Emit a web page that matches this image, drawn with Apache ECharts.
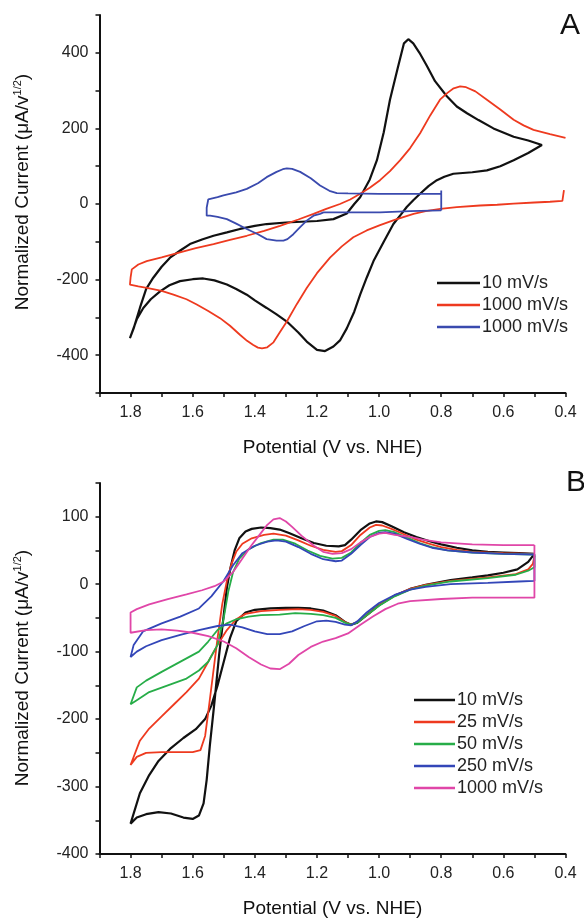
<!DOCTYPE html>
<html>
<head>
<meta charset="utf-8">
<script src="https://cdn.jsdelivr.net/npm/echarts@6/dist/echarts.min.js"></script>
<style>
  html, body { margin: 0; padding: 0; background: #fff; }
  #main { width: 584px; height: 919px; }
</style>
</head>
<body>
<div id="main"></div>
<script>
// panel A  -- [potential V, current]
var a10 = [[1.30,-49],[1.25,-47],[1.2,-45],[1.147,-40],[1.104,-25],[1.08,0],[1.061,18],[1.03,65],[1.007,116],[0.985,190],[0.965,276],[0.94,360],[0.92,425],[0.906,436],[0.89,425],[0.87,400],[0.846,365],[0.82,325],[0.782,285],[0.75,258],[0.717,240],[0.68,222],[0.632,200],[0.567,178],[0.52,168],[0.476,156],[0.52,135],[0.567,116],[0.61,100],[0.653,89],[0.70,84],[0.761,80],[0.79,72],[0.814,63],[0.84,48],[0.868,27],[0.89,10],[0.911,-8],[0.93,-28],[0.954,-53],[0.985,-100],[1.018,-151],[1.04,-195],[1.061,-240],[1.08,-285],[1.104,-329],[1.125,-360],[1.147,-377],[1.174,-389],[1.20,-386],[1.233,-364],[1.26,-340],[1.297,-311],[1.33,-292],[1.362,-275],[1.40,-255],[1.426,-240],[1.46,-225],[1.49,-213],[1.53,-202],[1.566,-197],[1.60,-199],[1.641,-204],[1.675,-215],[1.705,-231],[1.735,-252],[1.759,-275],[1.78,-305],[1.802,-355],[1.79,-329],[1.77,-275],[1.75,-225],[1.727,-195],[1.70,-166],[1.673,-142],[1.64,-123],[1.609,-106],[1.57,-94],[1.533,-84],[1.49,-75],[1.448,-66],[1.40,-58],[1.362,-53],[1.30,-49]];
var a1000 = [[0.40,175],[0.45,185],[0.503,196],[0.535,208],[0.567,223],[0.61,250],[0.653,276],[0.69,298],[0.72,309],[0.739,311],[0.76,306],[0.78,294],[0.804,276],[0.835,235],[0.868,187],[0.90,148],[0.932,116],[0.965,87],[0.997,63],[1.03,43],[1.061,27],[1.093,12],[1.126,0],[1.17,-13],[1.211,-26],[1.26,-41],[1.319,-58],[1.37,-71],[1.426,-84],[1.48,-95],[1.533,-106],[1.59,-117],[1.641,-128],[1.70,-141],[1.748,-151],[1.775,-160],[1.796,-173],[1.80,-195],[1.802,-213],[1.775,-218],[1.748,-222],[1.70,-230],[1.662,-240],[1.62,-252],[1.587,-266],[1.55,-283],[1.512,-302],[1.48,-322],[1.448,-346],[1.425,-362],[1.405,-373],[1.39,-380],[1.377,-382],[1.36,-379],[1.34,-366],[1.32,-340],[1.297,-311],[1.265,-265],[1.233,-222],[1.20,-183],[1.158,-142],[1.12,-112],[1.083,-88],[1.04,-70],[0.997,-56],[0.95,-42],[0.889,-26],[0.85,-19],[0.803,-13],[0.75,-8],[0.675,-4],[0.62,-2],[0.567,1],[0.50,4],[0.45,6],[0.41,8],[0.405,37]];
var a1000b = [[0.80,-17],[0.90,-19],[0.997,-22],[1.10,-22],[1.179,-22],[1.19,-26],[1.211,-31],[1.233,-44],[1.255,-62],[1.276,-80],[1.295,-93],[1.308,-97],[1.33,-97],[1.362,-93],[1.39,-80],[1.426,-66],[1.46,-52],[1.49,-40],[1.52,-34],[1.544,-31],[1.555,-31],[1.555,-10],[1.55,12],[1.52,18],[1.501,23],[1.46,31],[1.426,40],[1.39,55],[1.362,71],[1.33,85],[1.31,92],[1.297,94],[1.28,93],[1.254,85],[1.22,68],[1.19,49],[1.16,35],[1.136,29],[1.10,28],[1.0,27],[0.90,27],[0.80,27],[0.80,36],[0.80,-17]];

// panel B
var b10 = [[0.50,45],[0.52,33],[0.555,22],[0.60,17],[0.65,13],[0.70,10],[0.77,6],[0.85,-1],[0.90,-7],[0.95,-17],[1.0,-31],[1.04,-46],[1.07,-57],[1.09,-60],[1.11,-56],[1.14,-46],[1.18,-39],[1.22,-36],[1.26,-35],[1.30,-35],[1.35,-36],[1.40,-38],[1.43,-42],[1.46,-55],[1.48,-80],[1.50,-115],[1.52,-150],[1.54,-180],[1.56,-200],[1.59,-215],[1.63,-228],[1.67,-243],[1.71,-262],[1.74,-283],[1.77,-310],[1.80,-355],[1.78,-346],[1.75,-341],[1.71,-338],[1.67,-340],[1.63,-346],[1.60,-348],[1.58,-343],[1.565,-325],[1.555,-290],[1.545,-240],[1.53,-175],[1.515,-105],[1.50,-45],[1.49,-5],[1.478,25],[1.465,50],[1.45,68],[1.43,78],[1.41,82],[1.38,84],[1.35,83],[1.32,81],[1.29,76],[1.25,68],[1.21,61],[1.17,57],[1.13,56],[1.11,58],[1.09,66],[1.06,80],[1.03,90],[1.01,93],[0.99,92],[0.96,86],[0.92,77],[0.88,70],[0.84,64],[0.80,59],[0.75,54],[0.70,50],[0.65,48],[0.60,47],[0.55,46],[0.50,45]];
var b25 = [[0.50,42],[0.505,30],[0.52,22],[0.56,15],[0.65,10],[0.77,5],[0.85,-1],[0.90,-7],[0.95,-17],[1.0,-31],[1.04,-46],[1.07,-56],[1.09,-60],[1.11,-56],[1.14,-47],[1.18,-41],[1.22,-38],[1.26,-37],[1.32,-38],[1.38,-40],[1.43,-44],[1.46,-52],[1.49,-68],[1.52,-90],[1.55,-115],[1.58,-140],[1.62,-160],[1.66,-178],[1.70,-196],[1.74,-214],[1.77,-232],[1.80,-268],[1.78,-256],[1.75,-250],[1.70,-249],[1.65,-249],[1.60,-249],[1.575,-246],[1.56,-225],[1.55,-190],[1.535,-135],[1.52,-80],[1.505,-30],[1.49,5],[1.475,30],[1.46,48],[1.44,60],[1.41,68],[1.37,73],[1.34,75],[1.30,72],[1.26,65],[1.22,57],[1.18,51],[1.14,48],[1.12,49],[1.09,58],[1.06,73],[1.03,84],[1.01,88],[0.99,87],[0.96,82],[0.92,74],[0.88,66],[0.84,60],[0.80,55],[0.75,51],[0.70,48],[0.60,46],[0.50,45]];
var b50 = [[0.50,44],[0.50,25],[0.52,20],[0.56,14],[0.65,9],[0.77,4],[0.85,-2],[0.90,-8],[0.95,-18],[1.0,-32],[1.04,-46],[1.07,-57],[1.09,-60],[1.11,-57],[1.14,-50],[1.18,-46],[1.22,-44],[1.27,-43],[1.32,-45],[1.38,-46],[1.42,-48],[1.46,-52],[1.49,-58],[1.52,-68],[1.55,-85],[1.58,-100],[1.62,-110],[1.66,-120],[1.70,-130],[1.75,-143],[1.78,-153],[1.80,-178],[1.78,-172],[1.74,-160],[1.68,-150],[1.62,-140],[1.58,-128],[1.55,-115],[1.52,-90],[1.50,-50],[1.485,-10],[1.47,18],[1.45,38],[1.42,52],[1.38,61],[1.34,66],[1.31,66],[1.27,60],[1.23,50],[1.19,42],[1.15,38],[1.12,39],[1.09,47],[1.06,61],[1.03,73],[1.0,79],[0.98,80],[0.95,77],[0.91,69],[0.87,61],[0.83,55],[0.78,50],[0.70,47],[0.60,45],[0.50,44]];
var b250 = [[0.50,44],[0.50,5],[0.55,4],[0.65,2],[0.77,0],[0.85,-4],[0.90,-8],[0.95,-16],[1.0,-28],[1.04,-42],[1.07,-55],[1.09,-61],[1.11,-60],[1.14,-56],[1.17,-54],[1.20,-55],[1.24,-62],[1.28,-70],[1.32,-74],[1.36,-74],[1.40,-70],[1.44,-64],[1.48,-60],[1.52,-62],[1.58,-68],[1.64,-75],[1.70,-83],[1.75,-92],[1.78,-100],[1.80,-108],[1.79,-90],[1.76,-70],[1.70,-58],[1.64,-48],[1.58,-36],[1.54,-18],[1.50,5],[1.47,28],[1.44,46],[1.40,57],[1.36,63],[1.33,65],[1.30,63],[1.26,55],[1.22,45],[1.18,37],[1.14,34],[1.12,35],[1.09,45],[1.06,58],[1.03,70],[1.0,76],[0.98,77],[0.95,75],[0.91,67],[0.87,60],[0.83,54],[0.78,50],[0.70,47],[0.60,45],[0.50,44]];
var b1000 = [[0.50,58],[0.60,58],[0.70,59],[0.80,62],[0.86,66],[0.90,70],[0.95,73],[0.98,76],[1.0,75],[1.03,70],[1.06,62],[1.09,52],[1.12,46],[1.15,45],[1.18,48],[1.21,57],[1.25,72],[1.28,85],[1.30,93],[1.32,98],[1.34,96],[1.36,88],[1.38,76],[1.41,58],[1.44,38],[1.47,18],[1.50,4],[1.53,-3],[1.57,-9],[1.62,-15],[1.68,-22],[1.74,-30],[1.78,-37],[1.80,-42],[1.80,-72],[1.75,-68],[1.70,-67],[1.65,-69],[1.60,-72],[1.55,-77],[1.50,-85],[1.46,-95],[1.42,-108],[1.38,-119],[1.35,-125],[1.32,-126],[1.29,-118],[1.26,-105],[1.22,-93],[1.18,-85],[1.14,-80],[1.10,-73],[1.06,-60],[1.02,-48],[0.98,-37],[0.94,-29],[0.90,-25],[0.80,-22],[0.70,-20],[0.60,-20],[0.50,-20],[0.50,58]];

var namesA = ['10 mV/s', '1000 mV/s', '1000 mV/s'];
var namesB = ['10 mV/s', '25 mV/s', '50 mV/s', '250 mV/s', '1000 mV/s'];
var colorsA = ['#111111', '#ee3a1f', '#3a4aae'];
var colorsB = ['#111111', '#ee3a1f', '#27ad48', '#3346b8', '#e046a8'];

var font = 'Liberation Sans, Arial, sans-serif';
var myChart = echarts.init(document.getElementById('main'), null, {renderer: 'canvas'});

function xAx(gi) {
    return {
        type: 'value', gridIndex: gi, min: 0.4, max: 1.9, interval: 0.1, inverse: true,
        name: 'Potential (V vs. NHE)', nameLocation: 'middle', nameGap: 45,
        nameTextStyle: {fontFamily: font, fontSize: 19, color: '#111'},
        axisLine: {onZero: false, lineStyle: {color: '#111', width: 2}},
        axisTick: {length: 4, lineStyle: {color: '#111', width: 1.5}},
        axisLabel: {
            fontFamily: font, fontSize: 16, color: '#222', margin: 12,
            formatter: function (v) { return Math.round(v * 10) % 2 === 0 ? v.toFixed(1) : ''; }
        },
        splitLine: {show: false}
    };
}
function yAx(gi, min, max, step, labStep) {
    return {
        type: 'value', gridIndex: gi, min: min, max: max, interval: step,
        axisLine: {show: true, onZero: false, lineStyle: {color: '#111', width: 2}},
        axisTick: {show: true, length: 4, lineStyle: {color: '#111', width: 1.5}},
        axisLabel: {
            fontFamily: font, fontSize: 16, color: '#222', margin: 11,
            formatter: function (v) { return v % labStep === 0 ? String(v) : ''; }
        },
        splitLine: {show: false}
    };
}

var series = [];
[a10, a1000, a1000b].forEach(function (d, i) {
    series.push({name: 'A' + i + '|' + namesA[i], type: 'line', xAxisIndex: 0, yAxisIndex: 0, data: d,
        symbol: 'none', lineStyle: {color: colorsA[i], width: i === 0 ? 2.2 : 1.8}, itemStyle: {color: colorsA[i]}});
});
[b10, b25, b50, b250, b1000].forEach(function (d, i) {
    series.push({name: 'B' + i + '|' + namesB[i], type: 'line', xAxisIndex: 1, yAxisIndex: 1, data: d,
        symbol: 'none', lineStyle: {color: colorsB[i], width: i === 0 ? 2.2 : 1.8}, itemStyle: {color: colorsB[i]}});
});

var yRich = {
    n: {fontFamily: font, fontSize: 19, lineHeight: 22, fill: '#111'},
    s: {fontFamily: font, fontSize: 11, lineHeight: 11, verticalAlign: 'top', fill: '#111'}
};
function yName(cy) {
    return {
        type: 'text', x: 23, y: cy, rotation: Math.PI / 2,
        style: {
            text: '{n|Normalized Current (\u03bcA/v}{s|1/2}{n|)}',
            rich: yRich, align: 'center', verticalAlign: 'middle'
        }
    };
}
function legendOf(list, left, top, w) {
    return {
        data: list.map(function (s) { return s.name; }),
        orient: 'vertical', left: left, top: top, padding: 0,
        itemWidth: w, itemHeight: 2.5, itemGap: 4,
        icon: 'rect', selectedMode: false,
        formatter: function (n) { return n.split('|')[1]; },
        textStyle: {fontFamily: font, fontSize: 18, color: '#222', lineHeight: 18, padding: [0, 0, 0, -3]}
    };
}

var option = {
    animation: false,
    backgroundColor: '#ffffff',
    grid: [
        {left: 99.5, top: 15, width: 466, height: 378},
        {left: 99.5, top: 483, width: 466, height: 380}
    ],
    xAxis: [xAx(0), xAx(1)],
    yAxis: [yAx(0, -500, 500, 100, 200), yAx(1, -400, 150, 50, 100)],
    legend: [
        legendOf(series.slice(0, 3), 437, 274, 43),
        legendOf(series.slice(3), 414, 691, 41)
    ],
    graphic: [
        yName(192),
        yName(668),
        {type: 'text', left: 560, top: 11, style: {text: 'A', fontFamily: font, fontSize: 30, fill: '#111'}},
        {type: 'text', left: 566, top: 468, style: {text: 'B', fontFamily: font, fontSize: 30, fill: '#111'}}
    ],
    series: series
};
myChart.setOption(option);
</script>
</body>
</html>
